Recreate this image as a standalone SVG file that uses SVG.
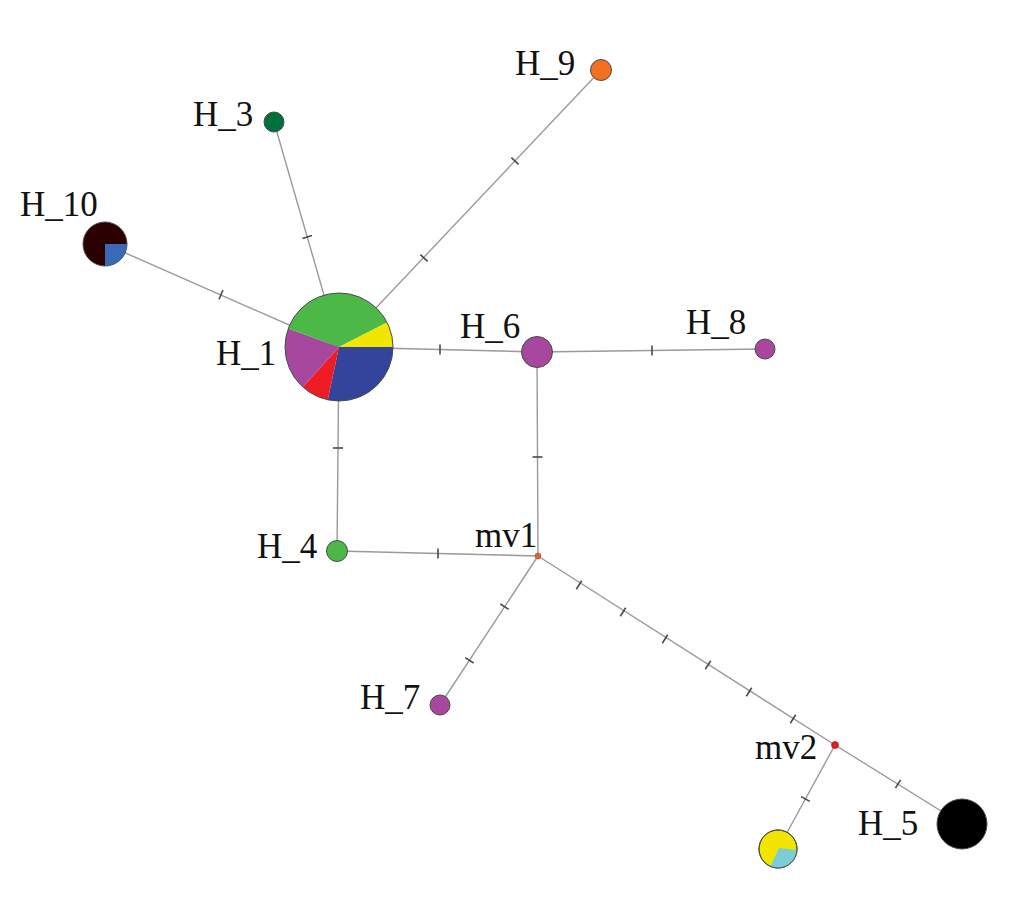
<svg xmlns="http://www.w3.org/2000/svg" width="1010" height="904" viewBox="0 0 1010 904">
<style>
.e{stroke:#9a9a9a;stroke-width:1.4;fill:none}
.t{stroke:#4a4a4a;stroke-width:1.6}
.n{stroke:#4a4a4a;stroke-width:1}
.l{font-family:"Liberation Serif","Times New Roman",serif;font-size:35px;fill:#111}
</style>
<rect width="1010" height="904" fill="#fff"/>
<g id="connectors">
<line class="e" x1="274" y1="122" x2="339" y2="347"/>
<line class="e" x1="601" y1="70" x2="339" y2="347"/>
<line class="e" x1="105" y1="244" x2="339" y2="347"/>
<line class="e" x1="339" y1="347" x2="537" y2="352"/>
<line class="e" x1="537" y1="352" x2="765" y2="349"/>
<line class="e" x1="537" y1="352" x2="538" y2="556"/>
<line class="e" x1="339" y1="347" x2="337" y2="551"/>
<line class="e" x1="337" y1="551" x2="538" y2="556"/>
<line class="e" x1="538" y1="556" x2="440" y2="705"/>
<line class="e" x1="538" y1="556" x2="835" y2="745"/>
<line class="e" x1="835" y1="745" x2="962" y2="824"/>
<line class="e" x1="835" y1="745" x2="778" y2="849"/>
<g id="ticks">
<line class="t" x1="302.4" y1="238.4" x2="312" y2="235.6"/>
<line class="t" x1="511.4" y1="157.6" x2="518.6" y2="164.4"/>
<line class="t" x1="420.4" y1="254.6" x2="427.6" y2="261.4"/>
<line class="t" x1="219" y1="299.2" x2="223" y2="290"/>
<line class="t" x1="440" y1="344.5" x2="440" y2="354.5"/>
<line class="t" x1="652" y1="345.5" x2="652" y2="355.5"/>
<line class="t" x1="532.5" y1="457" x2="542.5" y2="457"/>
<line class="t" x1="333" y1="448" x2="343" y2="448"/>
<line class="t" x1="438" y1="548.5" x2="438" y2="558.5"/>
<line class="t" x1="500.3" y1="604" x2="508.7" y2="609.4"/>
<line class="t" x1="465.2" y1="657.6" x2="473.6" y2="663"/>
<line class="t" x1="581.7" y1="580.8" x2="576.3" y2="589.2"/>
<line class="t" x1="625.7" y1="607.8" x2="620.3" y2="616.2"/>
<line class="t" x1="667.7" y1="634.8" x2="662.3" y2="643.2"/>
<line class="t" x1="710.7" y1="660.8" x2="705.3" y2="669.2"/>
<line class="t" x1="751.7" y1="687.8" x2="746.3" y2="696.2"/>
<line class="t" x1="795.7" y1="714.8" x2="790.3" y2="723.2"/>
<line class="t" x1="900.6" y1="779.8" x2="895.4" y2="788.2"/>
<line class="t" x1="801" y1="796.6" x2="809.8" y2="801.4"/>
</g>
</g>
<g id="H_1">
<path d="M339,347 L393,347 A54,54 0 0 1 327.8,399.8 Z" fill="#33449a"/>
<path d="M339,347 L327.8,399.8 A54,54 0 0 1 302.9,387.1 Z" fill="#ee1c25"/>
<path d="M339,347 L302.9,387.1 A54,54 0 0 1 288.3,328.5 Z" fill="#a8479e"/>
<path d="M339,347 L288.3,328.5 A54,54 0 0 1 387.1,322.5 Z" fill="#4cb848"/>
<path d="M339,347 L387.1,322.5 A54,54 0 0 1 393,347 Z" fill="#f2e600"/>
<circle class="n" cx="339" cy="347" r="54" fill="none"/>
<text class="l" x="216" y="365">H_1</text>
</g>
<g id="H_3">
<circle class="n" cx="274" cy="122" r="10" fill="#00703c"/>
<text class="l" x="193" y="126">H_3</text>
</g>
<g id="H_9">
<circle class="n" cx="601" cy="70" r="10.5" fill="#f37021"/>
<text class="l" x="515" y="75">H_9</text>
</g>
<g id="H_10">
<circle class="n" cx="105" cy="244" r="22" fill="#2a0000"/>
<path d="M105,244 L127,244 A22,22 0 0 1 105,266 Z" fill="#3a6ab5"/>
<text class="l" x="20" y="216">H_10</text>
</g>
<g id="H_6">
<circle class="n" cx="537" cy="352" r="15.5" fill="#a8479e"/>
<text class="l" x="460" y="338">H_6</text>
</g>
<g id="H_8">
<circle class="n" cx="765" cy="349" r="10" fill="#a8479e"/>
<text class="l" x="686" y="334">H_8</text>
</g>
<g id="H_4">
<circle class="n" cx="337" cy="551" r="10.5" fill="#4cb848"/>
<text class="l" x="257" y="558">H_4</text>
</g>
<g id="mv1">
<circle cx="538" cy="556" r="3" fill="#e0603a" stroke="#b05030" stroke-width="0.6"/>
<text class="l" x="475" y="547">mv1</text>
</g>
<g id="H_7">
<circle class="n" cx="440" cy="705" r="10" fill="#a8479e"/>
<text class="l" x="360" y="709">H_7</text>
</g>
<g id="mv2">
<circle cx="835" cy="745" r="3.5" fill="#e81c24" stroke="#a01010" stroke-width="0.6"/>
<text class="l" x="755" y="759">mv2</text>
</g>
<g id="H_5">
<circle class="n" cx="962" cy="824" r="25" fill="#000"/>
<text class="l" x="858" y="835">H_5</text>
</g>
<g id="H_2">
<circle class="n" cx="778" cy="849" r="19" fill="#f2e600"/>
<path d="M779,848 L797,850 A19,19 0 0 1 770.3,866.4 Z" fill="#7dccd6"/>
<circle class="n" cx="778" cy="849" r="19" fill="none"/>
</g>
</svg>
